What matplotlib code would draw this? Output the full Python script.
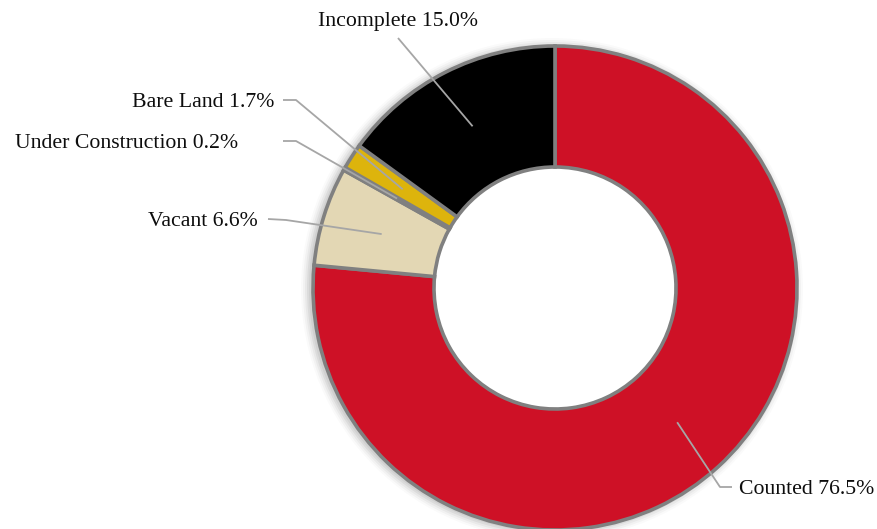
import matplotlib
matplotlib.use("Agg")
import matplotlib.pyplot as plt
import numpy as np

categories = ["Counted", "Vacant", "Under Construction", "Bare Land", "Incomplete"]
values = [76.5, 6.6, 0.2, 1.7, 15.0]
colors = ["#CE1126", "#E3D7B4", "#8A8A8A", "#DDB40C", "#000000"]

W, H = 878, 529
fig = plt.figure(figsize=(W / 100, H / 100), dpi=100)
ax = fig.add_axes([0, 0, 1, 1])

cx, cy = 555, H - 288
R, w = 242, 121

# faint shadow behind donut
for i, a in enumerate([0.05, 0.05, 0.04, 0.03, 0.02]):
    ax.add_patch(plt.Circle((cx - 3, cy - 1), R + 1 + 2 * i, color="#000000", alpha=a, zorder=0, lw=0))

wedges, _ = ax.pie(values, radius=R, center=(cx, cy), startangle=90, counterclock=False,
                   colors=colors,
                   wedgeprops=dict(width=w, edgecolor="#808080", linewidth=2.6))
ax.add_patch(plt.Circle((cx, cy), R - w - 1, color="white", zorder=0.5, lw=0))

ax.set_xlim(0, W)
ax.set_ylim(0, H)
ax.set_aspect("equal")
ax.axis("off")

font = dict(family=["Liberation Serif", "DejaVu Serif"], fontsize=15.7, color="#0d0d0d")
line_c = "#A6A6A6"

# label layout: (text x, text y (pixel from top), ha, elbow points)
layout = {
    "Incomplete": (398, 21, "center", [(398, 38)]),
    "Bare Land": (274, 102, "right", [(283, 100), (296, 100)]),
    "Under Construction": (238, 143, "right", [(283, 141), (296, 141)]),
    "Vacant": (258, 221, "right", [(268, 219), (286, 220)]),
    "Counted": (739, 490, "left", [(732, 487), (720, 487)]),
}

cum = np.cumsum([0] + values)
rmid = R - w / 2
for i, (cat, v) in enumerate(zip(categories, values)):
    mid = (cum[i] + cum[i + 1]) / 2 / 100 * 360
    ax_ = cx + rmid * np.sin(np.radians(mid))
    ay_ = cy + rmid * np.cos(np.radians(mid))
    tx, ty, ha, pts = layout[cat]
    xs = [p[0] for p in pts] + [ax_]
    ys = [H - p[1] for p in pts] + [ay_]
    ax.plot(xs, ys, color=line_c, lw=1.3, zorder=5, solid_capstyle="butt")
    ax.text(tx, H - ty, f"{cat} {v:.1f}%", ha=ha, va="center", **font)

fig.savefig("out.png", dpi=100)
